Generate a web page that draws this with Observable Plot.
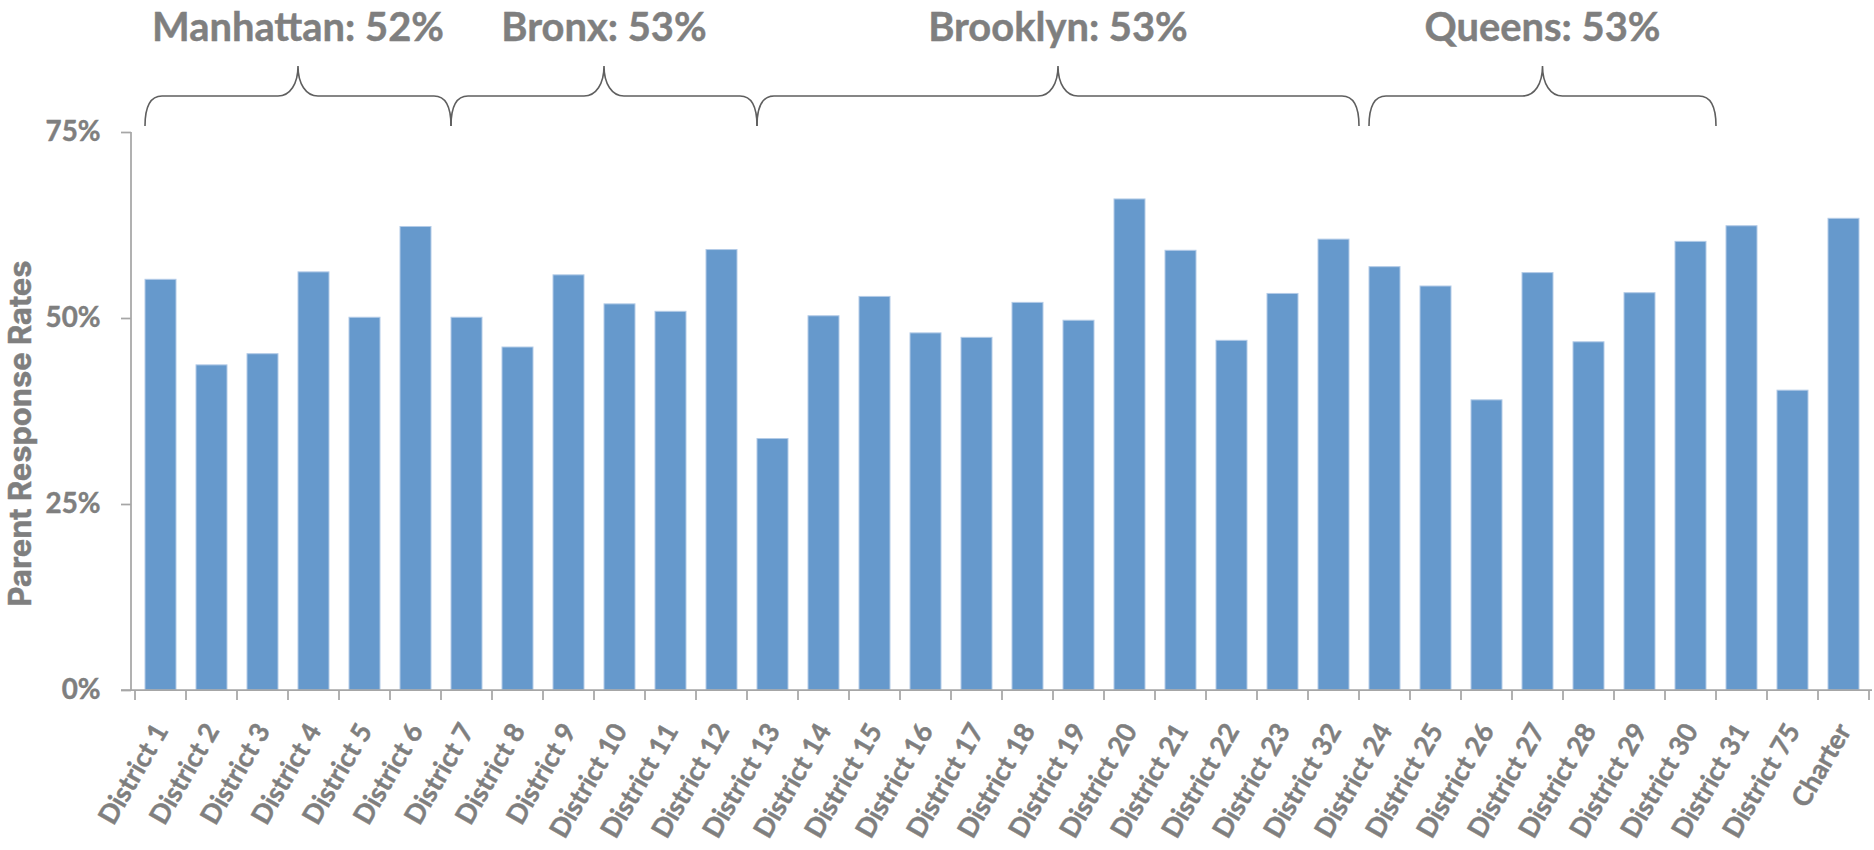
<!DOCTYPE html>
<html>
<head>
<meta charset="utf-8">
<script src="https://cdn.jsdelivr.net/npm/d3@7"></script>
<script src="https://cdn.jsdelivr.net/npm/@observablehq/plot@0.6"></script>
<style>
  html, body { margin: 0; padding: 0; background: #ffffff; }
  #chart svg { display: block; }
</style>
</head>
<body>
<div id="chart"></div>
<script>
// ---- Data ----
const districts = [
  "District 1", "District 2", "District 3", "District 4", "District 5", "District 6",
  "District 7", "District 8", "District 9", "District 10", "District 11", "District 12",
  "District 13", "District 14", "District 15", "District 16", "District 17", "District 18",
  "District 19", "District 20", "District 21", "District 22", "District 23", "District 32",
  "District 24", "District 25", "District 26", "District 27", "District 28", "District 29",
  "District 30", "District 31", "District 75", "Charter"
];
const rates = [
  55.2, 43.7, 45.2, 56.2, 50.1, 62.3,
  50.1, 46.1, 55.8, 51.9, 50.9, 59.2,
  33.8, 50.3, 52.9, 48.0, 47.4, 52.1,
  49.7, 66.0, 59.1, 47.0, 53.3, 60.6,
  56.9, 54.3, 39.0, 56.1, 46.8, 53.4,
  60.3, 62.4, 40.3, 63.4
];
const boroughs = ["Manhattan", "Bronx", "Brooklyn", "Queens"];
const boroughRates = [52, 53, 53, 53];
const boroughFirst = ["District 1", "District 7", "District 13", "District 24"];
const boroughLast = ["District 6", "District 12", "District 32", "District 30"];
const yTicks = [0, 25, 50, 75];
const yTitle = "Parent Response Rates";

// ---- Style ----
const W = 1874, H = 850;
const textGray = "#7f7f7f";
const axisGray = "#a6a6a6";
const braceGray = "#5f5f5f";
const barFill = "#6699cc";
const font = "Lato, 'Open Sans', 'DejaVu Sans', sans-serif";

const table = districts.map((d, i) => ({district: d, rate: rates[i]}));

// custom render: axis lines, boundary ticks, braces with borough labels
function decorations(index, scales, values, dims) {
  const x = scales.x, y = scales.y;
  const step = x.step ? x.step() : (x(districts[1]) - x(districts[0]));
  const bw = x.bandwidth ? x.bandwidth() : step * 0.6;
  const half = (step - bw) / 2;
  const g = d3.create("svg:g");
  const y0 = y(0), yTop = y(yTicks[yTicks.length - 1]);
  const left = dims.marginLeft, right = dims.width - dims.marginRight;
  g.append("line").attr("x1", left).attr("x2", left).attr("y1", yTop).attr("y2", y0)
    .attr("stroke", axisGray).attr("stroke-width", 1.75);
  g.append("line").attr("x1", left - 10).attr("x2", right).attr("y1", y0).attr("y2", y0)
    .attr("stroke", axisGray).attr("stroke-width", 1.75);
  const bounds = districts.map(d => x(d) - half);
  bounds.push(x(districts[districts.length - 1]) + bw + half);
  g.selectAll("line.tick").data(bounds).join("line").attr("class", "tick")
    .attr("x1", d => d).attr("x2", d => d).attr("y1", y0).attr("y2", y0 + 10)
    .attr("stroke", axisGray).attr("stroke-width", 1.75);
  const mt = dims.marginTop;
  const yEnd = mt - 6, yBar = mt - 36, yTip = mt - 66, yText = mt - 91;
  boroughs.forEach((b, i) => {
    const xa = x(boroughFirst[i]);
    const xb = x(boroughLast[i]) + step - (i >= 2 ? half : 0);
    const xm = (xa + xb) / 2;
    const p = `M${xa},${yEnd} C${xa},${yBar + 12} ${xa + 5},${yBar} ${xa + 17},${yBar}
      L${xm - 20},${yBar} C${xm - 8},${yBar} ${xm},${yBar - 12} ${xm},${yTip}
      C${xm},${yBar - 12} ${xm + 8},${yBar} ${xm + 20},${yBar}
      L${xb - 17},${yBar} C${xb - 5},${yBar} ${xb},${yBar + 12} ${xb},${yEnd}`;
    g.append("path").attr("d", p).attr("fill", "none")
      .attr("stroke", braceGray).attr("stroke-width", 1.6);
    g.append("text").attr("class", "borough").attr("x", xm).attr("y", yText)
      .attr("text-anchor", "middle").attr("fill", textGray)
      .attr("font-size", 38).attr("font-weight", 700).attr("font-family", font)
      .text(`${b}: ${boroughRates[i]}%`);
  });
  return g.node();
}

const chart = Plot.plot({
  width: W,
  height: H,
  marginLeft: 131,
  marginRight: 2,
  marginTop: 132,
  marginBottom: 160,
  style: {fontFamily: font, background: "#ffffff", color: textGray},
  x: {domain: districts, paddingInner: 0.4, paddingOuter: 0.2, axis: null},
  y: {domain: [0, 75], axis: null},
  marks: [
    Plot.barY(table, {x: "district", y: "rate", fill: barFill, stroke: "#b3cbe7", strokeWidth: 1}),
    Plot.axisY(yTicks, {
      label: null,
      tickSize: 10, tickPadding: 21, tickFormat: d => d + "%",
      fontSize: 26, fontWeight: "bold", stroke: axisGray, strokeWidth: 1.75, fill: textGray
    }),
    Plot.text(districts, {
      x: d => d, frameAnchor: "bottom", rotate: -60, textAnchor: "end", lineAnchor: "bottom",
      dx: 8, dy: 40, fontSize: 26, fontWeight: "bold", fill: textGray
    }),
    Plot.text([yTitle], {
      frameAnchor: "left", rotate: -90, textAnchor: "middle", lineAnchor: "middle",
      dx: -110, dy: 22, fontSize: 33, fontWeight: "bold", fill: textGray
    }),
    decorations
  ]
});
document.getElementById("chart").appendChild(chart);

// Fit text sizes to the widths measured on the reference
function fit(filterFn, sampleText, targetWidth, baseSize) {
  const texts = d3.select(chart).selectAll("text").filter(function () { return filterFn(this.textContent); });
  const sample = texts.filter(function () { return this.textContent === sampleText; }).node();
  if (!sample) return;
  sample.setAttribute("font-size", baseSize);
  const len = sample.getComputedTextLength();
  if (!(len > 0)) return;
  const size = baseSize * targetWidth / len;
  texts.attr("font-size", size.toFixed(2));
}
// pick, for the axis title, the installed face whose width / cap-height ratio is closest to the reference
function pickFont(text, targetW, targetCap, candidates) {
  const ctx = document.createElement("canvas").getContext("2d");
  let best = null;
  for (const f of candidates) {
    ctx.font = `bold 100px ${f}`;
    const w = ctx.measureText(text).width;
    const cap = ctx.measureText("H").actualBoundingBoxAscent;
    if (!(w > 0 && cap > 0)) continue;
    const err = Math.abs(Math.log((w / cap) / (targetW / targetCap)));
    if (!best || err < best.err) best = {f, err};
  }
  return best ? best.f : font;
}
const dset = new Set(districts);
const titleFont = pickFont(yTitle, 348, 23,
  ["Lato", "'Open Sans'", "'Noto Sans'", "Roboto", "'Liberation Sans'", "'DejaVu Sans'", "Inter"]);
d3.select(chart).selectAll("text").filter(function () { return this.textContent === yTitle; })
  .attr("font-family", titleFont);
fit(t => t === yTitle, yTitle, 346, 33);
fit(t => dset.has(t), "District 1", 111, 26);
fit(t => /^\d+%$/.test(t), "75%", 55, 26);
fit(t => / \d+%$/.test(t) && t.includes(":"), "Manhattan: 52%", 292, 38);
d3.select(chart).selectAll("text")
  .attr("stroke", textGray).attr("stroke-width", 0.45).attr("paint-order", "stroke");
</script>
</body>
</html>
